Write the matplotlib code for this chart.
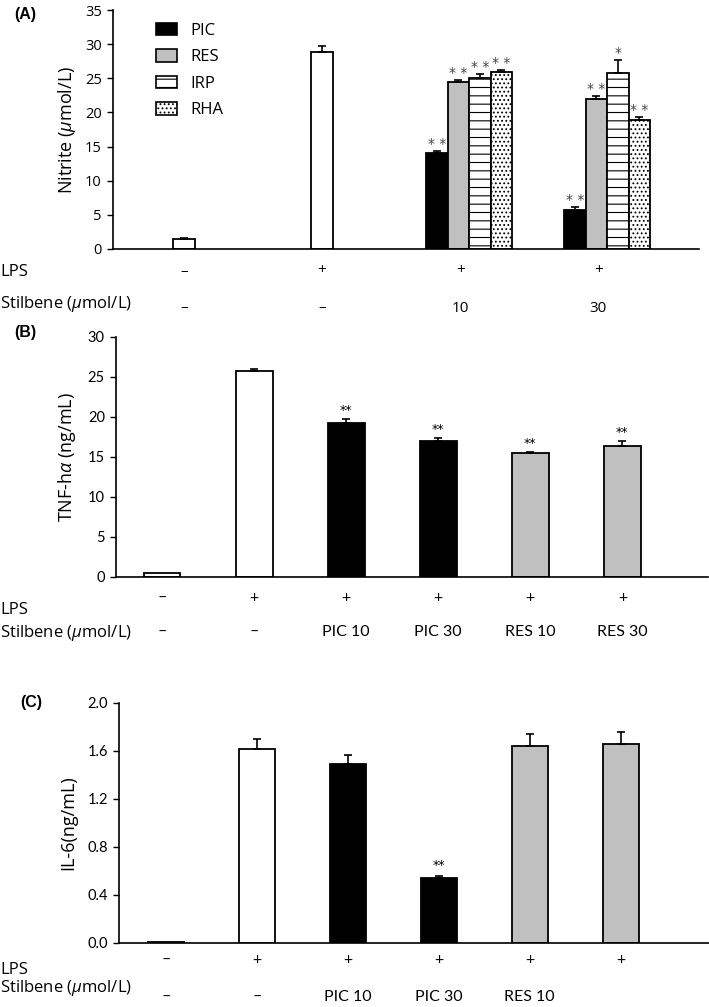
import numpy as np
import matplotlib.pyplot as plt
import matplotlib.transforms as mtransforms
from matplotlib.patches import Patch

plt.rcParams['mathtext.fontset'] = 'custom'
plt.rcParams['mathtext.it'] = 'Open Sans:italic'
plt.rcParams['mathtext.rm'] = 'Open Sans'
plt.rcParams['hatch.linewidth'] = 0.8

# ---- panel A : nitrite ----
a_lps = ['–', '+', '+', '+']
a_stilbene = ['–', '–', '10', '30']
stilbenes = ['PIC', 'RES', 'IRP', 'RHA']
nitrite_ctrl = [1.5, 28.8]
nitrite_ctrl_err = [0.15, 1.0]
nitrite_10 = [14.1, 24.5, 25.1, 25.9]
nitrite_10_err = [0.2, 0.3, 0.5, 0.3]
nitrite_30 = [5.7, 21.9, 25.8, 18.9]
nitrite_30_err = [0.4, 0.5, 1.9, 0.4]
nitrite_10_sig = ['* *', '* *', '* *', '* *']
nitrite_30_sig = ['* *', '* *', '*', '* *']

# ---- panel B : TNF ----
b_lps = ['–', '+', '+', '+', '+', '+']
b_stilbene = ['–', '–', 'PIC 10', 'PIC 30', 'RES 10', 'RES 30']
tnf = [0.45, 25.7, 19.2, 17.05, 15.5, 16.4]
tnf_err = [0.0, 0.35, 0.5, 0.35, 0.15, 0.65]
tnf_sig = ['', '', '**', '**', '**', '**']

# ---- panel C : IL-6 ----
c_lps = ['–', '+', '+', '+', '+', '+']
c_stilbene = ['–', '–', 'PIC 10', 'PIC 30', 'RES 10']
il6 = [0.01, 1.615, 1.49, 0.54, 1.64, 1.66]
il6_err = [0.0, 0.085, 0.08, 0.015, 0.10, 0.10]
il6_sig = ['', '', '', '**', '', '']

GRAY = '#c0c0c0'
six_colors = ['white', 'white', 'black', 'black', GRAY, GRAY]
a_styles = [('black', ''), (GRAY, ''), ('white', '--'), ('white', '....')]

W, H = 709, 1007
fig = plt.figure(figsize=(W / 100, H / 100), dpi=100)


def px_axes(left, top, right, bottom):
    return fig.add_axes([left / W, 1 - bottom / H, (right - left) / W, (bottom - top) / H])


def style(ax, font, size):
    for s in ['top', 'right']:
        ax.spines[s].set_visible(False)
    for s in ['left', 'bottom']:
        ax.spines[s].set_linewidth(1.2)
    ax.set_xticks([])
    ax.tick_params(axis='y', direction='out', length=4, width=1, labelsize=size, pad=4)
    for t in ax.get_yticklabels():
        t.set_family(font)


def rows(ax, lps, stil, y_lps_lab, y_lps, y_stil_lab, y_stil, vfont, vsize):
    tr = mtransforms.blended_transform_factory(ax.transData, fig.transFigure)
    for i, s in enumerate(lps):
        ax.text(i, 1 - y_lps / H, s, transform=tr, ha='center', va='center',
                fontsize=vsize, family=vfont)
    for i, s in enumerate(stil):
        ax.text(i, 1 - y_stil / H, s, transform=tr, ha='center', va='center',
                fontsize=vsize, family=vfont)
    fig.text(0, 1 - y_lps_lab / H, 'LPS', ha='left', va='center',
             fontsize=12, family='Open Sans')
    fig.text(0, 1 - y_stil_lab / H, r'Stilbene ($\mu$mol/L)', ha='left',
             va='center', fontsize=12, family='Open Sans')


def errs(ax, x, vals, e):
    ax.errorbar(x, vals, yerr=[np.zeros(len(vals)), e], fmt='none', ecolor='black',
                elinewidth=1.2, capsize=3, capthick=1.2, zorder=3)


def stars(ax, x, tops, sig, color, size, dy):
    for xi, t, s in zip(x, tops, sig):
        if s:
            ax.annotate(s, (xi, t), xytext=(0, dy), textcoords='offset points',
                        ha='center', va='bottom', fontsize=size, color=color)


# ================= A =================
axA = px_axes(113, 10, 699, 249)
bw = 0.156
x_ctrl = np.array([0, 1])
axA.bar(x_ctrl, nitrite_ctrl, bw, color='white', edgecolor='black', linewidth=1.3, zorder=2)
errs(axA, x_ctrl, nitrite_ctrl, nitrite_ctrl_err)
for g, (vals, e, sig) in enumerate([(nitrite_10, nitrite_10_err, nitrite_10_sig),
                                    (nitrite_30, nitrite_30_err, nitrite_30_sig)]):
    center = 2 + g + 0.065
    xs = center + (np.arange(4) - 1.5) * bw
    for xi, v, (fc, h) in zip(xs, vals, a_styles):
        axA.bar(xi, v, bw, color=fc, edgecolor='black', linewidth=1.3, hatch=h, zorder=2)
    errs(axA, xs, vals, e)
    stars(axA, xs, np.array(vals) + np.array(e), sig, '#444444', 10, 0)
axA.set_xlim(-0.514, 3.73)
axA.set_ylim(0, 35)
axA.set_yticks(range(0, 36, 5))
axA.set_ylabel(r'Nitrite ($\mu$mol/L)', fontsize=13, family='Open Sans', labelpad=5)
style(axA, 'Open Sans', 10.5)
handles = [Patch(facecolor=fc, edgecolor='black', hatch=h, linewidth=1.2) for fc, h in a_styles]
axA.legend(handles, stilbenes, loc='upper left', bbox_to_anchor=(0.047, 1.01), frameon=False,
           prop={'family': 'Open Sans', 'size': 12}, handlelength=1.26, handleheight=0.8,
           labelspacing=0.62, handletextpad=0.8)
rows(axA, a_lps, a_stilbene, 272, 271, 304, 308, 'Open Sans', 11)
fig.text(14 / W, 1 - 14 / H, '(A)', fontsize=11.5, fontweight='bold', family='Liberation Sans',
         va='center', ha='left')

# ================= B =================
axB = px_axes(116, 337, 708, 577)
xb = np.arange(6)
axB.bar(xb, tnf, 0.4, color=six_colors, edgecolor='black', linewidth=1.3, zorder=2)
errs(axB, xb[1:], tnf[1:], tnf_err[1:])
stars(axB, xb, np.array(tnf) + np.array(tnf_err), tnf_sig, 'black', 9, 1.5)
axB.set_xlim(-0.5, 5.93)
axB.set_ylim(0, 30)
axB.set_yticks(range(0, 31, 5))
axB.set_ylabel(r'TNF-h$\alpha$ (ng/mL)', fontsize=13, family='Open Sans', labelpad=7)
style(axB, 'Lato', 10.5)
rows(axB, b_lps, b_stilbene, 610, 598, 633, 632, 'Lato', 11.5)
fig.text(14 / W, 1 - 333 / H, '(B)', fontsize=11.5, fontweight='bold', family='Liberation Sans',
         va='center', ha='left')

# ================= C =================
axC = px_axes(119, 703, 709, 943)
xc = np.arange(6)
axC.bar(xc, il6, 0.4, color=six_colors, edgecolor='black', linewidth=1.3, zorder=2)
errs(axC, xc[1:], il6[1:], il6_err[1:])
stars(axC, xc, np.array(il6) + np.array(il6_err), il6_sig, 'black', 9, 3)
axC.set_xlim(-0.516, 5.97)
axC.set_ylim(0, 2.0)
axC.set_yticks(np.arange(0, 2.01, 0.4))
axC.set_yticklabels([f'{v:.1f}' for v in np.arange(0, 2.01, 0.4)])
axC.set_ylabel('IL-6(ng/mL)', fontsize=13, family='Open Sans', labelpad=7)
style(axC, 'Lato', 10.5)
rows(axC, c_lps, c_stilbene, 970, 960, 988, 997, 'Lato', 11.5)
fig.text(20 / W, 1 - 703 / H, '(C)', fontsize=11.5, fontweight='bold', family='Liberation Sans',
         va='center', ha='left')

fig.savefig('out.png', dpi=100)
